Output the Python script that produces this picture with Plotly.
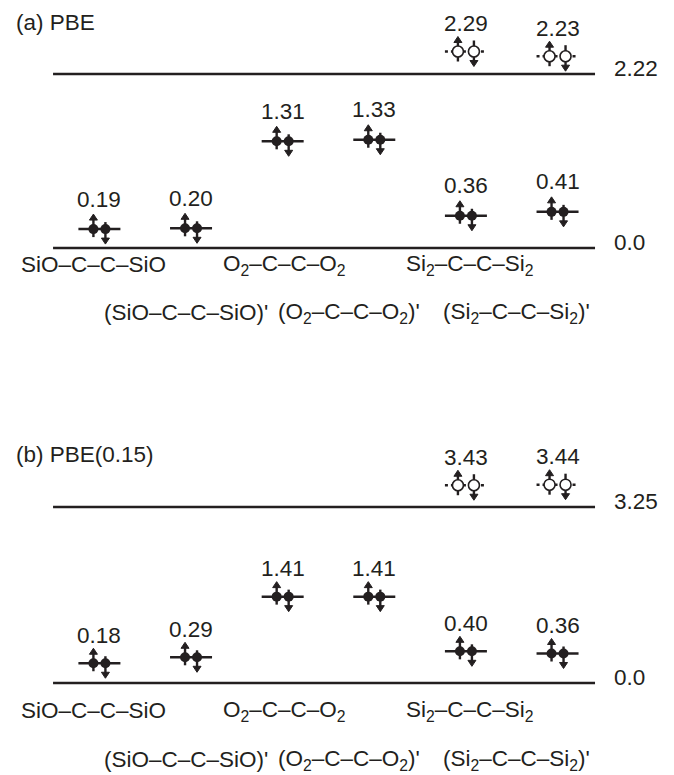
import plotly.graph_objects as go

# ---------------- data ----------------
categories = ["SiO–C–C–SiO", "(SiO–C–C–SiO)'",
              "O<sub>2</sub>–C–C–O<sub>2</sub>", "(O<sub>2</sub>–C–C–O<sub>2</sub>)'",
              "Si<sub>2</sub>–C–C–Si<sub>2</sub>", "(Si<sub>2</sub>–C–C–Si<sub>2</sub>)'"]
cat_pos = [1, 2, 3, 4, 5, 6]

pbe_occupied = [0.19, 0.20, 1.31, 1.33, 0.36, 0.41]
pbe_empty = [None, None, None, None, 2.29, 2.23]
pbe_cbm = 2.22

hyb_occupied = [0.18, 0.29, 1.41, 1.41, 0.40, 0.36]
hyb_empty = [None, None, None, None, 3.43, 3.44]
hyb_cbm = 3.25

vbm = 0.0
panel_titles = ["(a) PBE", "(b) PBE(0.15)"]

# ---------------- style ----------------
W, H = 674, 775
INK = "#231f20"
FONT = "Liberation Sans, Arial, Helvetica, sans-serif"
FS = 22.5
X_RANGE = [-0.085, 7.271]
REF_X = [0.494, 6.409]

panels = [
    dict(occ=pbe_occupied, emp=pbe_empty, cbm=pbe_cbm, title=panel_titles[0],
         xa="x", ya="y", dom=[0.5613, 1.0], rng=[-1.174, 3.164],
         title_y=1 - 22 / 775, row_shift=[-17, -65], lift=(4, 17), text=(30, 28)),
    dict(occ=hyb_occupied, emp=hyb_empty, cbm=hyb_cbm, title=panel_titles[1],
         xa="x2", ya="y2", dom=[0.0, 0.4839], rng=[-1.699, 5.226],
         title_y=1 - 455 / 775, row_shift=[-28, -77], lift=(10, 12), text=(28, 28)),
]
row_of_cat = [0, 1, 0, 1, 0, 1]
label_xshift = [-6, -5, 2, -25, 4, -41]

HALF_W = 21

fig = go.Figure()
shapes, annotations = [], []
px_per_x = W / (X_RANGE[1] - X_RANGE[0])


def px_shape(kind, xa, ya, xc, yc, x0, x1, y0, y1, **kw):
    d = dict(type=kind, xref=xa, yref=ya, xsizemode="pixel", ysizemode="pixel",
             xanchor=xc, yanchor=yc, x0=x0, x1=x1, y0=y0, y1=y1, layer="below")
    d.update(kw)
    return d


def px_path(xa, ya, xc, yc, path):
    return dict(type="path", xref=xa, yref=ya, xsizemode="pixel", ysizemode="pixel",
                xanchor=xc, yanchor=yc, path=path, fillcolor=INK,
                line=dict(color=INK, width=1), layer="below")


for p in panels:
    xa, ya = p["xa"], p["ya"]
    px_per_y = (p["dom"][1] - p["dom"][0]) * H / (p["rng"][1] - p["rng"][0])
    # reference lines (VBM and CBM)
    for val, lab in [(vbm, "0.0"), (p["cbm"], f"{p['cbm']:.2f}")]:
        shapes.append(dict(type="line", xref=xa, yref=ya, x0=REF_X[0], x1=REF_X[1],
                           y0=val, y1=val, line=dict(color=INK, width=2.6)))
        annotations.append(dict(x=REF_X[1], y=val, xref=xa, yref=ya, text=lab,
                                showarrow=False, xanchor="left", yanchor="middle",
                                xshift=17, yshift=5, font=dict(size=FS, color=INK, family=FONT)))
    dots_x, dots_y, dots_fill = [], [], []
    for i, xc in enumerate(cat_pos):
        for val, empty in [(p["occ"][i], False), (p["emp"][i], True)]:
            if val is None:
                continue
            lift = p["lift"][1] if empty else p["lift"][0]
            txt = p["text"][1] if empty else p["text"][0]
            dx = 8 if empty else 6
            # level segment
            shapes.append(px_shape("line", xa, ya, xc, val, -HALF_W, HALF_W, lift, lift,
                                   line=dict(color=INK, width=2.5, dash="dot" if empty else "solid")))
            lo_up = -10 if empty else -8
            hi_dn = 11 if empty else 7
            # spin-up arrow (left)
            shapes.append(px_shape("line", xa, ya, xc, val, -dx, -dx, lift + lo_up, lift + 11,
                                   line=dict(color=INK, width=2.4)))
            shapes.append(px_path(xa, ya, xc, val,
                                  f"M {-dx-4} {lift+9} L {-dx} {lift+15} L {-dx+4} {lift+9} Z"))
            # spin-down arrow (right)
            shapes.append(px_shape("line", xa, ya, xc, val, dx, dx, lift + hi_dn, lift - 11,
                                   line=dict(color=INK, width=2.4)))
            shapes.append(px_path(xa, ya, xc, val,
                                  f"M {dx-4} {lift-9} L {dx} {lift-15} L {dx+4} {lift-9} Z"))
            # dots (through the axis scale)
            for s in (-1, 1):
                dots_x.append(xc + s * dx / px_per_x)
                dots_y.append(val + lift / px_per_y)
                dots_fill.append(empty)
            # value label
            annotations.append(dict(x=xc, y=val, xref=xa, yref=ya, text=f"{val:.2f}",
                                    showarrow=False, yanchor="middle", xanchor="center",
                                    yshift=lift + txt,
                                    font=dict(size=FS, color=INK, family=FONT)))
    fig.add_trace(go.Scatter(
        x=[a for a, f in zip(dots_x, dots_fill) if not f],
        y=[b for b, f in zip(dots_y, dots_fill) if not f],
        xaxis=xa, yaxis=ya, mode="markers", hoverinfo="skip", showlegend=False,
        marker=dict(symbol="circle", size=10, color=INK, line=dict(width=0))))
    fig.add_trace(go.Scatter(
        x=[a for a, f in zip(dots_x, dots_fill) if f],
        y=[b for b, f in zip(dots_y, dots_fill) if f],
        xaxis=xa, yaxis=ya, mode="markers", hoverinfo="skip", showlegend=False,
        marker=dict(symbol="circle", size=11, color="white", line=dict(width=1.6, color=INK))))
    # category labels
    for i, xc in enumerate(cat_pos):
        annotations.append(dict(x=xc, y=vbm, xref=xa, yref=ya, text=categories[i],
                                showarrow=False, xanchor="center", yanchor="middle",
                                xshift=label_xshift[i], yshift=p["row_shift"][row_of_cat[i]],
                                font=dict(size=FS, color=INK, family=FONT)))
    # panel title
    annotations.append(dict(x=14 / W, y=p["title_y"], xref="paper", yref="paper",
                            text=p["title"], showarrow=False, xanchor="left", yanchor="middle",
                            font=dict(size=FS, color=INK, family=FONT)))

ax_common = dict(visible=False, showgrid=False, zeroline=False, fixedrange=True)
fig.update_layout(
    width=W, height=H, margin=dict(l=0, r=0, t=0, b=0),
    paper_bgcolor="white", plot_bgcolor="white",
    xaxis=dict(range=X_RANGE, domain=[0, 1], anchor="y", **ax_common),
    xaxis2=dict(range=X_RANGE, domain=[0, 1], anchor="y2", **ax_common),
    yaxis=dict(range=panels[0]["rng"], domain=panels[0]["dom"], anchor="x", **ax_common),
    yaxis2=dict(range=panels[1]["rng"], domain=panels[1]["dom"], anchor="x2", **ax_common),
    shapes=shapes, annotations=annotations, showlegend=False,
)

fig.write_html("out.html", config={"staticPlot": True},
               post_script="document.body.style.margin='0px';document.body.style.overflow='hidden';")
